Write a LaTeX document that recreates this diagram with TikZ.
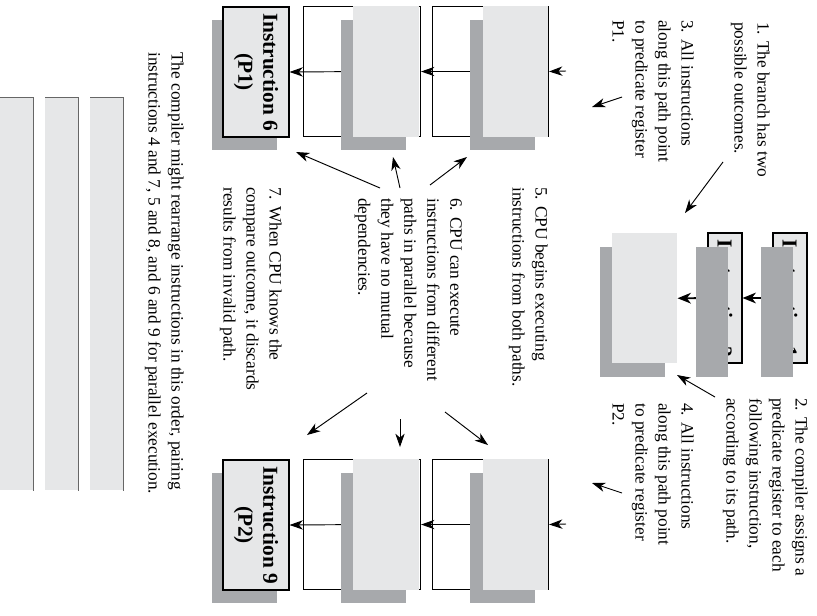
\documentclass[tikz,border=0pt]{standalone}
\usepackage{fontspec}
\setmainfont{Liberation Serif}
\usepackage{xcolor}
\usetikzlibrary{arrows.meta}

\definecolor{shadegray}{HTML}{A7A9AC}
\definecolor{panelgray}{HTML}{E6E7E8}

\tikzset{
  dims/.style 2 args={minimum width=#1*0.75pt, minimum height=#2*0.75pt},
  frame/.style={draw=black, fill=white, line width=0.8pt, inner sep=0pt, anchor=north west},
  shade/.style={fill=shadegray, inner sep=0pt, anchor=north west},
  panel/.style={fill=panelgray, inner sep=0pt, anchor=north west},
  instr/.style={draw=black, fill=panelgray, line width=0.8pt, rotate=-90, inner sep=0pt,
    align=center, font=\fontsize{16}{18.75}\selectfont\bfseries},
  note/.style={rotate=-90, anchor=north west, inner sep=0pt, align=left,
    font=\fontsize{13}{17.25}\selectfont},
  edge/.style={draw=black!60, line width=0.6pt},
  arr/.style={line width=0.7pt, -{Stealth[length=10pt, width=7pt, inset=3pt]}},
  flow/.style={line width=1.4pt, -{Stealth[length=10pt, width=8pt, inset=3pt]}},
}

\begin{document}
\begin{tikzpicture}[x=0.75pt, y=-0.75pt]
  \useasboundingbox (0,0) rectangle (817,615);

  % P1 path: instructions 4, 5, 6
  \node[frame, dims={116}{130}] (out4) at (432,6) {};
  \node[frame, dims={117}{130}] (out5) at (303,6) {};
  \node[shade, dims={65}{130}] (sh6) at (212,20) {};
  \node[instr, dims={130}{66}] (i6) at (256,72) {Instruction 6\\(P1)};
  \coordinate (in4) at (566,71);
  \draw[arr] (in4) -- (out4.east);
  \draw[arr] (out4.center) -- (out5.east);
  \draw[arr] (out5.center) -- (i6.north);
  \node[shade, dims={65}{130}] (sh4) at (470,20) {};
  \node[panel, dims={65}{131}] (pn4) at (483,6) {};
  \node[shade, dims={65}{130}] (sh5) at (341,20) {};
  \node[panel, dims={66}{131}] (pn5) at (353,6) {};

  % P2 path: instructions 7, 8, 9
  \node[frame, dims={116}{130}] (out7) at (432,459) {};
  \node[frame, dims={117}{130}] (out8) at (303,459) {};
  \node[shade, dims={65}{130}] (sh9) at (212,473) {};
  \node[instr, dims={130}{66}] (i9) at (256,525) {Instruction 9\\(P2)};
  \coordinate (in7) at (566,524);
  \draw[arr] (in7) -- (out7.east);
  \draw[arr] (out7.center) -- (out8.east);
  \draw[arr] (out8.center) -- (i9.north);
  \node[shade, dims={65}{130}] (sh7) at (470,473) {};
  \node[panel, dims={65}{131}] (pn7) at (483,459) {};
  \node[shade, dims={65}{130}] (sh8) at (341,473) {};
  \node[panel, dims={66}{131}] (pn8) at (353,459) {};

  % instructions 1, 2, 3
  \node[shade, dims={65}{130}] (sh3) at (600,247) {};
  \node[panel, dims={65}{130}] (pn3) at (612,233) {};
  \node[instr, dims={130}{34}] (i2) at (725,298) {Instruction 2};
  \node[instr, dims={130}{34}] (i1) at (790,298) {Instruction 1};
  \draw[flow] (i2.center) -- (pn3.east);
  \draw[flow] (i1.center) -- (i2.north);
  \node[shade, dims={32}{130}] (sh2) at (696,247) {};
  \node[shade, dims={32}{130}] (sh1) at (761,247) {};

  % reordered sequence
  \foreach \i/\x in {1/0, 2/45, 3/90} {
    \node[panel, dims={33}{393}] (bar\i) at (\x,97) {};
    \draw[edge] (bar\i.north west) -- (bar\i.north east) -- (bar\i.south east);
  }

  % notes
  \node[note] (n1) at (770,22) {1. The branch has two\\possible outcomes.};
  \node[note] (n2) at (808,398) {2. The compiler assigns a\\predicate register to each\\following instruction,\\according to its path.};
  \node[note] (n3) at (694,20) {3. All instructions\\along this path point\\to predicate register\\P1.};
  \node[note] (n4) at (694,403) {4. All instructions\\along this path point\\to predicate register\\P2.};
  \node[note] (n5) at (548,187) {5. CPU begins executing\\instructions from both paths.};
  \node[note] (n6) at (462,198) {6. CPU can execute\\instructions from different\\paths in parallel because\\they have no mutual\\dependencies.};
  \node[note] (n7) at (282,187) {7. When CPU knows the\\compare outcome, it discards\\results from invalid path.};
  \node[note] (cap) at (184,52) {The compiler might rearrange instructions in this order, pairing\\instructions 4 and 7, 5 and 8, and 6 and 9 for parallel execution.};

  % pointers from the notes
  \foreach \n/\tx/\ty/\hx/\hy in {
    a/723/162/685/213, b/715/397/677/375, c/622/97/592/107, d/622/493/592/483,
    e/380/188/296/152, f/400/188/393/157, g/430/185/467/157,
    h/367/393/307/435, k/400/419/400/447, m/445/412/488/445} {
    \coordinate (t\n) at (\tx,\ty);
    \coordinate (h\n) at (\hx,\hy);
    \draw[arr] (t\n) -- (h\n);
  }
\end{tikzpicture}
\end{document}
